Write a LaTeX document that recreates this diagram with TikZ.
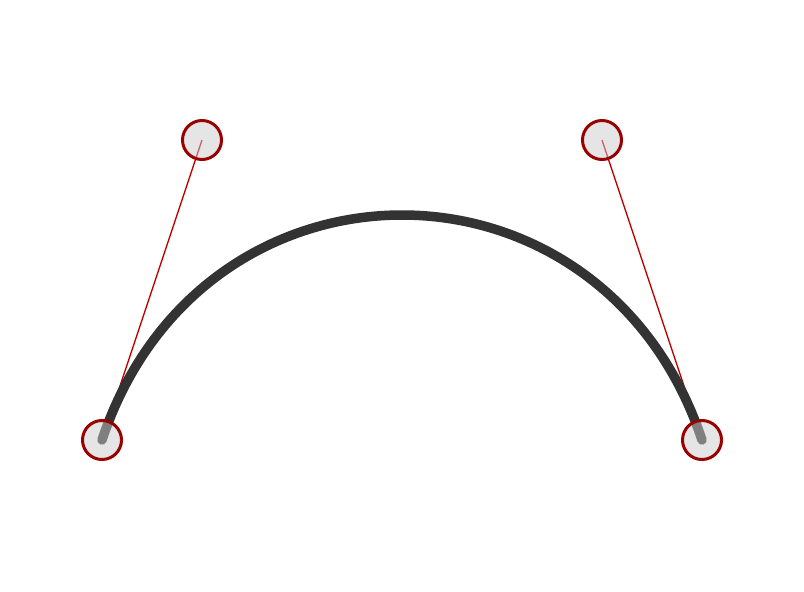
\documentclass[tikz,border=0pt]{standalone}
\begin{document}
\begin{tikzpicture}[x=1pt,y=-1pt,
  curvestyle/.style={line width=9.5pt,color=black!80,line cap=round},
  handle/.style={draw=red!75!black,line width=1.3pt},
  ctrlpt/.style={circle,minimum size=39pt,inner sep=0pt,draw=red!60!black,line width=3pt,fill=black!20,fill opacity=0.5}]
\useasboundingbox (0,0) rectangle (804,592);
\coordinate (p0) at (102,440);
\coordinate (c1) at (202,140);
\coordinate (c2) at (602,140);
\coordinate (p3) at (702,440);
\draw[handle] (p0) -- (c1);
\draw[handle] (p3) -- (c2);
\draw[curvestyle] (p0) .. controls (c1) and (c2) .. (p3);
\node[ctrlpt] (n0) at (p0) {};
\node[ctrlpt] (n1) at (c1) {};
\node[ctrlpt] (n2) at (c2) {};
\node[ctrlpt] (n3) at (p3) {};
\end{tikzpicture}
\end{document}
